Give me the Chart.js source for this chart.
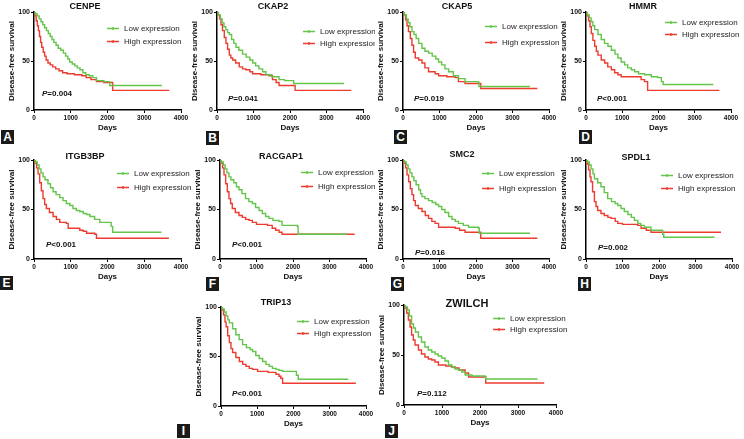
<!DOCTYPE html>
<html>
<head>
<meta charset="utf-8">
<script src="https://cdn.jsdelivr.net/npm/chart.js@4"></script>
<style>
  body { margin: 0; background: #fff; }
  #fig { position: relative; width: 744px; height: 439px; overflow: hidden; }
  #fig canvas { position: absolute; }
  .tag { position: absolute; width: 13px; height: 14px; background: #1a1a1a; color: #fff;
         font: bold 12px "Liberation Sans", Arial, sans-serif; line-height: 14px; text-align: center; }
</style>
</head>
<body>
<div id="fig"></div>
<script>
// Kaplan-Meier steps: [day, disease-free survival %]
const genes = ['CENPE', 'CKAP2', 'CKAP5', 'HMMR', 'ITGB3BP', 'RACGAP1', 'SMC2', 'SPDL1', 'TRIP13', 'ZWILCH'];
const letters = ['A', 'B', 'C', 'D', 'E', 'F', 'G', 'H', 'I', 'J'];
const pValues = ['=0.004', '=0.041', '=0.019', '<0.001', '<0.001', '<0.001', '=0.016', '=0.002', '<0.001', '=0.112'];
const seriesNames = ['Low expression', 'High expression'];
const xTicks = [0, 1000, 2000, 3000, 4000];
const yTicks = [0, 50, 100];

const cenpeLow = [[0,100],[40,98],[90,96],[140,93],[190,90],[240,87],[290,84],[340,81],[390,78],[440,75],[490,72],[540,69],[600,66],[660,63],[730,61],[800,58],[860,55],[920,52],[970,49],[1040,47],[1110,45],[1180,43],[1250,41],[1330,38],[1410,36],[1500,35],[1600,33],[1700,30],[1900,29],[2060,25],[3480,25]];
const cenpeHigh = [[0,100],[30,96],[60,91],[90,86],[120,81],[150,75],[180,69],[210,64],[250,59],[290,55],[330,51],[380,48],[440,46],[510,44],[590,42],[680,40],[780,38],[900,37],[1100,36],[1300,35],[1420,33],[1550,31],[1700,29],[1900,28],[2140,20],[3680,20]];

const ckap2Low = [[0,100],[40,97],[90,93],[140,89],[190,85],[240,82],[290,79],[340,77],[400,72],[460,68],[520,64],[600,61],[700,57],[800,54],[900,51],[980,48],[1060,45],[1150,42],[1250,39],[1340,36],[1500,34],[1700,31],[1850,30],[2100,27],[3480,27]];
const ckap2High = [[0,100],[30,97],[70,93],[110,87],[150,81],[200,74],[245,68],[290,62],[337,56],[380,53],[430,51],[510,48],[610,44],[700,42],[790,41],[900,39],[975,37],[1200,36],[1430,35],[1520,31],[1620,28],[1700,25],[2140,20],[3680,20]];

const ckap5Low = [[0,100],[40,97],[90,93],[140,89],[190,85],[245,80],[300,77],[360,73],[430,68],[520,63],[600,60],[700,58],[800,55],[900,52],[975,49],[1060,46],[1150,42],[1250,39],[1380,35],[1520,32],[1700,29],[2070,28],[2080,24],[3480,24]];
const ckap5High = [[0,100],[30,97],[70,92],[110,86],[150,80],[200,73],[245,66],[290,59],[337,53],[430,51],[520,48],[600,43],[700,39],[880,37],[975,35],[1200,34],[1430,33],[1520,29],[1700,27],[2130,22],[3680,22]];

const hmmrLow = [[0,100],[40,97],[90,94],[140,90],[190,86],[240,82],[330,77],[420,72],[510,68],[605,65],[700,61],[800,57],[880,53],[970,49],[1065,46],[1150,43],[1250,41],[1340,39],[1450,37],[1615,36],[1800,34],[1980,33],[2080,29],[2130,26],[3510,26]];
const hmmrHigh = [[0,100],[30,96],[70,91],[110,85],[147,78],[190,71],[240,65],[285,60],[330,56],[420,51],[515,48],[600,44],[700,41],[790,38],[880,36],[970,34],[1430,34],[1520,31],[1615,29],[1700,20],[3680,20]];

const itgb3bpLow = [[0,100],[40,98],[90,95],[140,91],[190,87],[245,83],[300,80],[380,76],[450,72],[520,68],[600,65],[700,62],[790,59],[880,56],[975,54],[1060,51],[1150,49],[1245,48],[1340,46],[1430,45],[1520,43],[1650,40],[1790,37],[2065,37],[2100,33],[2140,27],[3470,27]];
const itgb3bpHigh = [[0,100],[30,97],[70,92],[110,86],[155,77],[200,69],[245,61],[290,55],[336,51],[420,47],[520,43],[610,40],[700,37],[880,36],[930,31],[1245,29],[1340,28],[1430,26],[1655,25],[1700,21],[3670,21]];

const racgap1Low = [[0,100],[40,98],[90,95],[140,91],[190,87],[245,83],[300,80],[380,77],[450,73],[520,70],[600,66],[700,61],[790,58],[885,56],[975,52],[1070,49],[1160,46],[1250,43],[1340,41],[1450,39],[1615,38],[1700,34],[2120,33],[2140,25],[3480,25]];
const racgap1High = [[0,100],[30,97],[70,92],[110,85],[155,76],[200,68],[245,61],[290,56],[336,51],[420,47],[520,44],[610,42],[700,40],[795,39],[885,37],[1000,35],[1300,34],[1430,31],[1525,29],[1620,27],[1700,25],[3690,25]];

const smc2Low = [[0,100],[40,98],[90,95],[140,91],[190,87],[245,83],[300,79],[360,75],[430,70],[480,66],[520,63],[600,61],[700,59],[800,57],[900,55],[975,53],[1060,50],[1150,47],[1250,43],[1340,40],[1430,38],[1520,36],[1650,34],[1795,32],[2070,31],[2090,26],[3480,26]];
const smc2High = [[0,100],[30,97],[70,92],[110,85],[155,78],[200,71],[245,65],[290,59],[337,54],[420,51],[520,48],[610,44],[700,41],[790,38],[880,36],[975,32],[1340,32],[1430,31],[1550,29],[1700,27],[2130,21],[3680,21]];

const spdl1Low = [[0,100],[40,98],[90,95],[140,91],[190,86],[230,81],[320,77],[410,73],[500,67],[595,61],[700,58],[800,56],[870,54],[960,51],[1050,48],[1150,45],[1240,42],[1325,39],[1420,36],[1500,34],[1600,32],[1780,29],[2055,29],[2100,25],[2130,22],[3520,22]];
const spdl1High = [[0,100],[30,96],[70,90],[110,83],[137,78],[180,68],[230,58],[275,53],[320,49],[410,46],[500,44],[600,42],[685,41],[800,38],[870,36],[1000,35],[1415,34],[1510,31],[1650,29],[1780,27],[3700,27]];

const trip13Low = [[0,100],[40,98],[90,95],[140,91],[190,87],[230,84],[320,78],[410,72],[500,67],[595,62],[700,59],[800,57],[870,55],[960,51],[1055,48],[1150,45],[1240,42],[1330,40],[1420,38],[1515,37],[1600,36],[1700,35],[1970,35],[2080,31],[2130,27],[3510,27]];
const trip13High = [[0,100],[30,97],[70,92],[110,85],[140,80],[185,71],[230,64],[275,58],[320,54],[410,49],[505,45],[600,42],[690,40],[780,38],[870,37],[1010,35],[1300,34],[1515,32],[1600,30],[1650,28],[1700,23],[3720,23]];

const zwilchLow = [[0,100],[40,98],[90,95],[140,89],[200,81],[250,77],[300,73],[380,68],[460,63],[550,58],[640,55],[730,53],[820,51],[900,49],[990,47],[1080,44],[1170,40],[1260,38],[1340,36],[1430,35],[1520,33],[1610,30],[1790,29],[2135,28],[2150,26],[3515,26]];
const zwilchHigh = [[0,100],[30,97],[70,92],[115,85],[160,78],[200,70],[245,65],[290,60],[380,55],[460,51],[550,48],[640,46],[730,45],[815,43],[905,40],[1100,39],[1250,38],[1345,37],[1450,35],[1610,32],[1700,28],[2135,28],[2150,22],[3690,22]];

const lowSeries = [cenpeLow, ckap2Low, ckap5Low, hmmrLow, itgb3bpLow, racgap1Low, smc2Low, spdl1Low, trip13Low, zwilchLow];
const highSeries = [cenpeHigh, ckap2High, ckap5High, hmmrHigh, itgb3bpHigh, racgap1High, smc2High, spdl1High, trip13High, zwilchHigh];

// layout of each panel in page pixels (plot box + text offsets)
const layout = [
  { ox: 34,  top: 12,  bottom: 110, right: 181, tx: 51, ty: -5, ts: 9,  lx: 73, ly: [16, 29], px: 8,  py: 16, tag: [1, 130] },
  { ox: 217, top: 12,  bottom: 110, right: 363, tx: 56, ty: -5, ts: 9,  lx: 86, ly: [19, 31], px: 11, py: 11, tag: [206, 131] },
  { ox: 403, top: 12,  bottom: 110, right: 549, tx: 54, ty: -5, ts: 9,  lx: 82, ly: [14, 30], px: 11, py: 11, tag: [394, 130] },
  { ox: 586, top: 12,  bottom: 110, right: 731, tx: 57, ty: -5, ts: 9,  lx: 79, ly: [10, 22], px: 11, py: 11, tag: [579, 130] },
  { ox: 34,  top: 160, bottom: 259, right: 181, tx: 51, ty: -3, ts: 9,  lx: 83, ly: [13, 27], px: 12, py: 14, tag: [0, 276] },
  { ox: 220, top: 160, bottom: 259, right: 366, tx: 61, ty: -3, ts: 9,  lx: 81, ly: [12, 26], px: 12, py: 14, tag: [206, 277] },
  { ox: 403, top: 160, bottom: 259, right: 549, tx: 59, ty: -5, ts: 9,  lx: 79, ly: [13, 28], px: 12, py: 6,  tag: [391, 277] },
  { ox: 586, top: 160, bottom: 259, right: 732, tx: 50, ty: -2, ts: 9,  lx: 75, ly: [15, 28], px: 12, py: 11, tag: [578, 277] },
  { ox: 221, top: 307, bottom: 406, right: 366, tx: 55, ty: -4, ts: 9,  lx: 76, ly: [14, 26], px: 11, py: 12, tag: [177, 424] },
  { ox: 404, top: 305, bottom: 405, right: 556, tx: 63, ty: -1, ts: 11, lx: 89, ly: [13, 24], px: 13, py: 11, tag: [385, 424] }
];

const FF = '"Liberation Sans", Arial, sans-serif';
const colors = ['#63c54a', '#ee3b2f'];
Chart.defaults.font.family = FF;
Chart.defaults.color = '#111';

const overlay = {
  id: 'overlay',
  afterDraw(chart, args, opts) {
    const { ctx, chartArea: a } = chart;
    const p = opts.panel;
    ctx.save();
    ctx.textBaseline = 'middle';
    // gene title
    ctx.fillStyle = '#111';
    ctx.textAlign = 'center';
    ctx.font = 'bold ' + p.ts + 'px ' + FF;
    ctx.fillText(opts.gene, a.left + p.tx, a.top + p.ty);
    // legend
    ctx.textAlign = 'left';
    ctx.font = '8px ' + FF;
    chart.data.datasets.forEach((ds, i) => {
      const y = a.top + p.ly[i] + 0.5;
      const x = a.left + p.lx;
      ctx.strokeStyle = ds.borderColor;
      ctx.lineWidth = 1.3;
      ctx.beginPath();
      ctx.moveTo(x, y); ctx.lineTo(x + 12, y);
      ctx.moveTo(x + 6, y - 1.5); ctx.lineTo(x + 6, y + 1.5);
      ctx.stroke();
      ctx.fillStyle = '#222';
      ctx.fillText(ds.label, x + 17, y);
    });
    // p value
    const px = a.left + p.px, py = a.bottom - p.py;
    ctx.fillStyle = '#111';
    ctx.font = 'italic bold 8px ' + FF;
    ctx.fillText('P', px, py);
    const w = ctx.measureText('P').width;
    ctx.font = 'bold 8px ' + FF;
    ctx.fillText(opts.p, px + w, py);
    ctx.restore();
  }
};

const fig = document.getElementById('fig');

genes.forEach((gene, i) => {
  const L = layout[i];
  const plotW = L.right - L.ox, plotH = L.bottom - L.top;
  const canvas = document.createElement('canvas');
  canvas.width = plotW + 34 + 12;
  canvas.height = plotH + 14 + 28;
  canvas.style.left = (L.ox - 34) + 'px';
  canvas.style.top = (L.top - 14) + 'px';
  fig.appendChild(canvas);

  const tag = document.createElement('div');
  tag.className = 'tag';
  tag.textContent = letters[i];
  tag.style.left = L.tag[0] + 'px';
  tag.style.top = L.tag[1] + 'px';
  fig.appendChild(tag);

  const toXY = arr => arr.map(([d, s]) => ({ x: d, y: s }));

  new Chart(canvas, {
    type: 'line',
    data: {
      datasets: [
        { label: seriesNames[0], data: toXY(lowSeries[i]), borderColor: colors[0] },
        { label: seriesNames[1], data: toXY(highSeries[i]), borderColor: colors[1] }
      ].map(ds => Object.assign(ds, { stepped: true, borderWidth: 1.4, pointRadius: 0, fill: false }))
    },
    options: {
      responsive: false,
      animation: false,
      devicePixelRatio: 1,
      layout: { padding: { top: 14, left: 0, right: 12, bottom: 2 } },
      plugins: {
        legend: { display: false },
        title: { display: false },
        tooltip: { enabled: false },
        overlay: { panel: L, gene: gene, p: pValues[i] }
      },
      scales: {
        x: {
          type: 'linear', min: 0, max: 4000,
          afterBuildTicks: s => { s.ticks = xTicks.map(v => ({ value: v })); },
          afterFit: s => { s.height = 26; },
          grid: { drawOnChartArea: false, drawTicks: true, tickLength: 3, color: '#000', lineWidth: 1 },
          border: { color: '#000', width: 1.5 },
          ticks: { font: { size: 6.5, weight: 'bold' }, color: '#111', padding: 1, maxRotation: 0, autoSkip: false,
                   callback: v => String(v) },
          title: { display: true, text: 'Days', font: { size: 8, weight: 'bold', lineHeight: 1 }, padding: { top: 0, bottom: 4 }, color: '#111' }
        },
        y: {
          min: 0, max: 100,
          afterBuildTicks: s => { s.ticks = yTicks.map(v => ({ value: v })); },
          afterFit: s => { s.width = 34; },
          grid: { drawOnChartArea: false, drawTicks: true, tickLength: 3, color: '#000', lineWidth: 1 },
          border: { color: '#000', width: 1.5 },
          ticks: { font: { size: 7, weight: 'bold' }, color: '#111', padding: 1, callback: v => String(v) },
          title: { display: true, text: 'Disease-free survival', font: { size: 8, weight: 'bold', lineHeight: 1 }, padding: { top: 8, bottom: 0 }, color: '#111' }
        }
      }
    },
    plugins: [overlay]
  });
});
</script>
</body>
</html>
